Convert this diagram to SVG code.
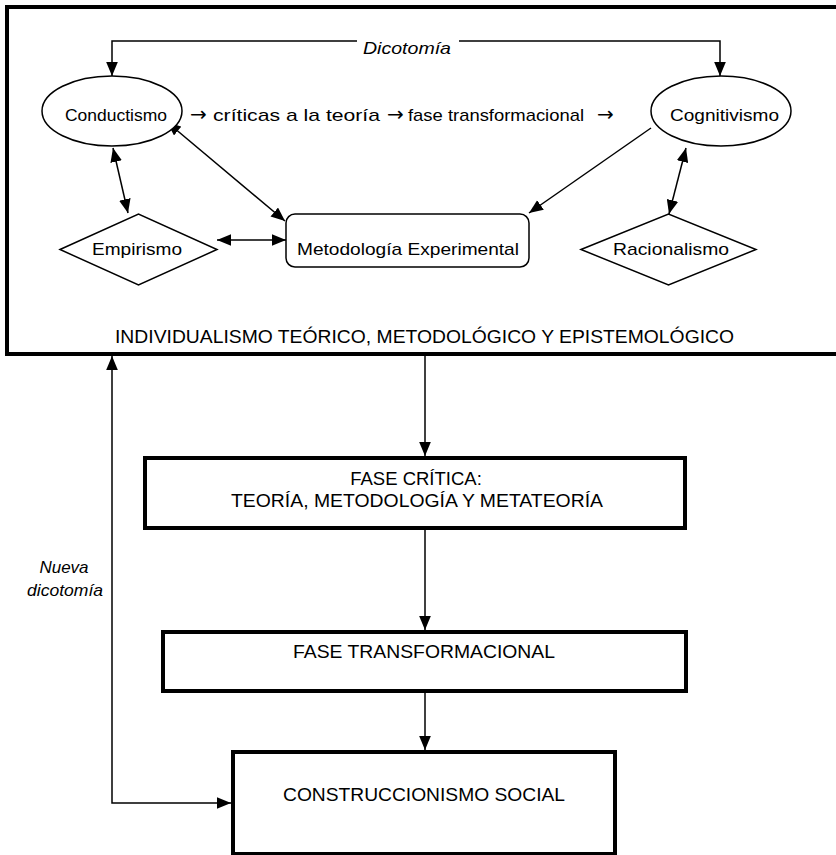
<svg xmlns="http://www.w3.org/2000/svg" width="836" height="855" viewBox="0 0 836 855">
  <defs>
    <marker id="ah" markerUnits="userSpaceOnUse" markerWidth="14" markerHeight="12" refX="12" refY="5" orient="auto-start-reverse" viewBox="0 0 12 10">
      <path d="M0,0 L12,5 L0,10 z" fill="#000"/>
    </marker>
  </defs>
  <style>
    text { font-family: "Liberation Sans", Arial, sans-serif; fill: #000; }
    .lbl { font-size: 17px; }
    .big { font-size: 18.5px; }
    .it { font-size: 17px; font-style: italic; }
    .arr { font-family: "DejaVu Sans", sans-serif; font-size: 20px; }
    .shape { fill: #fff; stroke: #000; stroke-width: 1.5; }
    .box { fill: #fff; stroke: #000; stroke-width: 4; }
    .con { fill: none; stroke: #000; stroke-width: 1.5; }
    .dbl { marker-start: url(#ah); marker-end: url(#ah); }
    .one { marker-end: url(#ah); }
  </style>
  <rect width="836" height="855" fill="#fff"/>

  <g id="frame">
    <rect class="box" x="7" y="7" width="850" height="347" fill="none"/>
    <text class="big" x="115" y="343" textLength="619" lengthAdjust="spacingAndGlyphs">INDIVIDUALISMO TEÓRICO, METODOLÓGICO Y EPISTEMOLÓGICO</text>
  </g>

  <g id="connectors">
    <path class="con one" d="M357,41 H112 V76"/>
    <path class="con one" d="M459,41 H720 V76"/>
    <path class="con dbl" d="M113,148 L128,213"/>
    <path class="con dbl" d="M167,122 L285,221"/>
    <path class="con dbl" d="M217,240 L286,240"/>
    <path class="con one" d="M651,128 L529,213"/>
    <path class="con dbl" d="M686,148 L669,214"/>
    <path class="con one" d="M425,356 V456"/>
    <path class="con one" d="M425,530 V630"/>
    <path class="con one" d="M425,693 V750"/>
    <path class="con dbl" d="M231,803 H112 V356"/>
    <text class="it" x="407" y="54" text-anchor="middle" textLength="88" lengthAdjust="spacingAndGlyphs">Dicotomía</text>
    <text class="it" x="64" y="573" text-anchor="middle">Nueva</text>
    <text class="it" x="65" y="596" text-anchor="middle" textLength="76" lengthAdjust="spacingAndGlyphs">dicotomía</text>
  </g>

  <g id="conductismo">
    <ellipse class="shape" cx="112" cy="111" rx="70" ry="35"/>
    <text class="lbl" x="116" y="121" text-anchor="middle" textLength="102" lengthAdjust="spacingAndGlyphs">Conductismo</text>
  </g>

  <g id="sequence">
    <text class="lbl" y="121"><tspan class="arr" x="190">→</tspan><tspan x="213" textLength="167" lengthAdjust="spacingAndGlyphs">críticas a la teoría</tspan><tspan class="arr" x="387">→</tspan><tspan x="408" textLength="176" lengthAdjust="spacingAndGlyphs">fase transformacional</tspan><tspan class="arr" x="597">→</tspan></text>
  </g>

  <g id="cognitivismo">
    <ellipse class="shape" cx="721" cy="111" rx="70" ry="35"/>
    <text class="lbl" x="724.5" y="121" text-anchor="middle" textLength="109" lengthAdjust="spacingAndGlyphs">Cognitivismo</text>
  </g>

  <g id="empirismo">
    <polygon class="shape" points="60,249.5 138.5,214 217,249.5 138.5,285"/>
    <text class="lbl" x="137" y="255" text-anchor="middle" textLength="90" lengthAdjust="spacingAndGlyphs">Empirismo</text>
  </g>

  <g id="metodologia">
    <rect class="shape" x="286" y="214" width="243" height="53" rx="9"/>
    <text class="lbl" x="297" y="255" textLength="222" lengthAdjust="spacingAndGlyphs">Metodología Experimental</text>
  </g>

  <g id="racionalismo">
    <polygon class="shape" points="581,249.5 668.5,214 756,249.5 668.5,285"/>
    <text class="lbl" x="671" y="255" text-anchor="middle" textLength="116" lengthAdjust="spacingAndGlyphs">Racionalismo</text>
  </g>

  <g id="fase-critica">
    <rect class="box" x="145" y="458" width="540" height="70"/>
    <text class="big" x="416" y="485" text-anchor="middle">FASE CRÍTICA:</text>
    <text class="big" x="417" y="507" text-anchor="middle" textLength="372" lengthAdjust="spacingAndGlyphs">TEORÍA, METODOLOGÍA Y METATEORÍA</text>
  </g>

  <g id="fase-transformacional">
    <rect class="box" x="163" y="632" width="523" height="59"/>
    <text class="big" x="293" y="658" textLength="262" lengthAdjust="spacingAndGlyphs">FASE TRANSFORMACIONAL</text>
  </g>

  <g id="construccionismo">
    <rect class="box" x="233" y="752" width="382" height="102"/>
    <text class="big" x="283" y="801" textLength="282" lengthAdjust="spacingAndGlyphs">CONSTRUCCIONISMO SOCIAL</text>
  </g>
</svg>
